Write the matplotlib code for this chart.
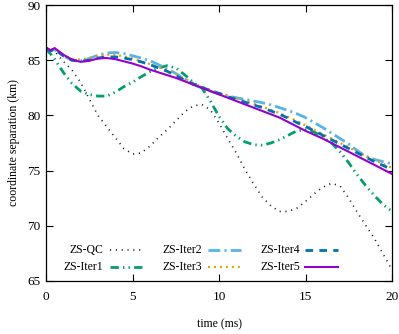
import matplotlib
matplotlib.use("Agg")
import matplotlib.pyplot as plt

plt.rcParams['font.family'] = ['Liberation Serif', 'DejaVu Serif']
plt.rcParams['font.size'] = 8.5
plt.rcParams['lines.scale_dashes'] = False

# time (ms)
t = [0, 0.25, 0.5, 1.0, 1.5, 2.0, 2.5, 3.0, 3.5, 4.0, 4.5, 5.0, 5.5, 6.0, 6.5, 7.0, 7.5,
     8.0, 8.5, 9.0, 9.5, 10.0, 10.5, 11.0, 11.5, 12.0, 12.5, 13.0, 13.5, 14.0, 14.5,
     15.0, 15.5, 16.0, 16.5, 17.0, 17.5, 18.0, 18.5, 19.0, 19.5, 20.0]

zs_qc = [86.1, 86.0, 85.8, 84.9, 84.1, 83.0, 81.5, 80.0, 79.0, 78.0, 77.0, 76.5, 76.6,
         77.2, 78.0, 78.7, 79.5, 80.3, 80.85, 81.0, 80.5, 79.3, 77.9, 76.6, 75.1, 73.8,
         72.6, 71.8, 71.3, 71.3, 71.6, 72.2, 72.9, 73.5, 73.85, 73.6, 72.5, 71.2, 70.0,
         68.8, 67.4, 66.0]
zs_iter1 = [86.0, 85.6, 85.1, 83.9, 82.9, 82.2, 81.9, 81.75, 81.75, 82.1, 82.6, 83.0,
            83.5, 83.95, 84.3, 84.5, 84.3, 83.7, 83.0, 82.5, 81.3, 79.9, 78.8, 78.1, 77.6,
            77.35, 77.3, 77.5, 77.8, 78.2, 78.6, 78.7, 78.5, 78.0, 77.5, 76.7, 75.7, 74.6,
            73.6, 72.7, 71.9, 71.3]
zs_iter2 = [86.1, 85.85, 85.95, 85.4, 85.0, 84.95, 85.15, 85.45, 85.65, 85.7, 85.6, 85.4,
            85.2, 84.95, 84.6, 84.2, 83.8, 83.3, 82.8, 82.5, 82.2, 81.95, 81.75, 81.6,
            81.45, 81.3, 81.15, 80.95, 80.7, 80.45, 80.15, 79.8, 79.35, 78.9, 78.4, 77.9,
            77.4, 76.8, 76.3, 76.0, 75.8, 75.6]
zs_iter3 = [86.1, 85.9, 86.05, 85.5, 85.1, 85.05, 85.2, 85.4, 85.5, 85.5, 85.35, 85.15,
            84.9, 84.65, 84.4, 84.1, 83.75, 83.35, 82.95, 82.6, 82.3, 82.05, 81.8, 81.55,
            81.3, 81.05, 80.8, 80.5, 80.2, 79.85, 79.5, 79.1, 78.7, 78.3, 77.9, 77.5, 77.1,
            76.7, 76.3, 75.95, 75.6, 75.25]
zs_iter4 = [86.1, 85.85, 86.0, 85.4, 85.0, 84.9, 85.0, 85.2, 85.3, 85.3, 85.2, 85.05,
            84.85, 84.6, 84.3, 84.0, 83.6, 83.2, 82.85, 82.55, 82.25, 82.0, 81.7, 81.45,
            81.2, 80.95, 80.7, 80.4, 80.1, 79.75, 79.35, 79.0, 78.6, 78.2, 77.8, 77.4, 77.0,
            76.6, 76.2, 75.8, 75.45, 75.1]
zs_iter5 = [86.15, 85.9, 86.1, 85.5, 85.05, 84.85, 84.95, 85.15, 85.2, 85.1, 84.9, 84.7,
            84.45, 84.15, 83.9, 83.65, 83.4, 83.1, 82.8, 82.5, 82.2, 81.9, 81.6, 81.3, 81.0,
            80.7, 80.4, 80.1, 79.8, 79.4, 79.0, 78.6, 78.25, 77.9, 77.5, 77.1, 76.7, 76.3,
            75.9, 75.5, 75.1, 74.7]

labels = ["ZS-QC", "ZS-Iter1", "ZS-Iter2", "ZS-Iter3", "ZS-Iter4", "ZS-Iter5"]
series = [zs_qc, zs_iter1, zs_iter2, zs_iter3, zs_iter4, zs_iter5]
colors = ["#202020", "#009E73", "#56B4E9", "#E69F00", "#0072B2", "#9400D3"]
widths = [1.2, 2.0, 2.0, 1.6, 2.0, 1.5]
styles = [(0, (0.8, 3.4)), (0, (6, 3, 1, 3, 1, 3)), (0, (8.5, 3, 1.5, 3)),
          (0, (1.4, 2.9)), (0, (5.5, 4.5)), "-"]

fig = plt.figure(figsize=(3.99, 3.34), dpi=100)
ax = fig.add_axes([0.1153, 0.1587, 0.8672, 0.8263])

for y, c, lw, ls in zip(series, colors, widths, styles):
    ax.plot(t, y, color=c, lw=lw, linestyle=ls)

ax.set_xlim(0, 20)
ax.set_ylim(65, 90)
ax.set_xticks([0, 5, 10, 15, 20])
ax.set_yticks([65, 70, 75, 80, 85, 90])
ax.tick_params(direction="in", length=5, width=0.8, top=True, right=True,
               labelsize=9.5)
ax.tick_params(axis="x", pad=7)
ax.tick_params(axis="y", pad=4)
for s in ax.spines.values():
    s.set_linewidth(0.9)
ax.set_xlabel("time (ms)", labelpad=11)
ax.set_ylabel("coordinate separation (km)", labelpad=5)

# gnuplot-like key: label right-aligned, sample to the right
text_x = [0.1647, 0.1647, 0.451, 0.451, 0.734, 0.734]
line_x = [(0.185, 0.283), (0.185, 0.283), (0.468, 0.564), (0.468, 0.564),
          (0.7486, 0.844), (0.7486, 0.844)]
row_y = [0.112, 0.051, 0.112, 0.051, 0.112, 0.051]
for i in range(6):
    ax.text(text_x[i], row_y[i], labels[i], transform=ax.transAxes,
            ha="right", va="center")
    ax.plot(line_x[i], [row_y[i], row_y[i]], transform=ax.transAxes,
            color=colors[i], lw=widths[i], linestyle=styles[i], clip_on=False)

fig.savefig("out.png", dpi=100)
